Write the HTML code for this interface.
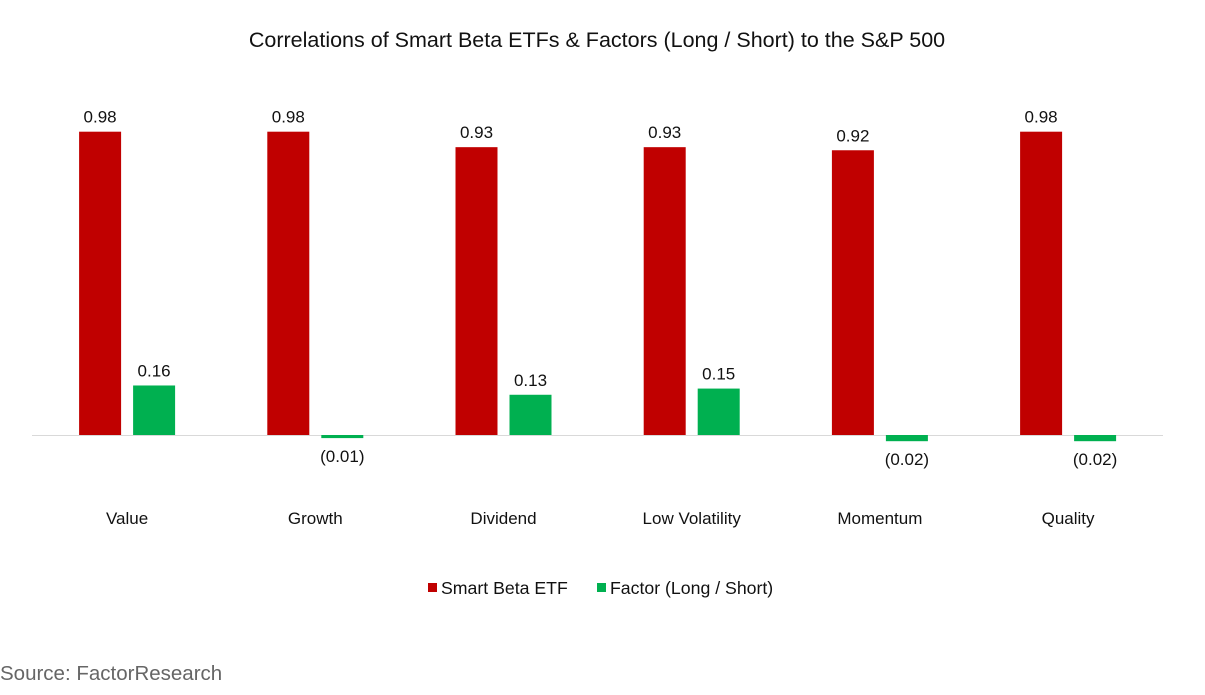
<!DOCTYPE html>
<html><head><meta charset="utf-8"><style>
html,body{margin:0;padding:0;background:#fff;}
svg{display:block;font-family:"Liberation Sans",Arial,sans-serif;}
</style></head><body>
<svg id="chart" width="1205" height="695" viewBox="0 0 1205 695">
<text x="597" y="47" text-anchor="middle" font-size="21.5" fill="#111">Correlations of Smart Beta ETFs &amp; Factors (Long / Short) to the S&amp;P 500</text>
<line x1="32" y1="435.5" x2="1163" y2="435.5" stroke="#d9d9d9" stroke-width="1"/>
<g id="bars"></g>
<g>
<rect x="428" y="583" width="9" height="9" fill="#c00000"/>
<text x="441" y="594" font-size="17.7" fill="#111">Smart Beta ETF</text>
<rect x="597" y="583" width="9" height="9" fill="#00b050"/>
<text x="610" y="594" font-size="17.7" fill="#111">Factor (Long / Short)</text>
</g>
<text x="0" y="680" font-size="20.5" fill="#666">Source: FactorResearch</text>
</svg>
<script>
const categories = ["Value","Growth","Dividend","Low Volatility","Momentum","Quality"];
const smartBeta = [0.98,0.98,0.93,0.93,0.92,0.98];
const factor = [0.16,-0.01,0.13,0.15,-0.02,-0.02];
const ns = "http://www.w3.org/2000/svg";
const g = document.getElementById("bars");
const baseY = 435, scale = 309.5, x0 = 33, step = 188.2, barW = 42;
function yScale(v){ return baseY - v*scale; }
function fmt(v){ return v<0 ? "("+Math.abs(v).toFixed(2)+")" : v.toFixed(2); }
function mk(tag, attrs){ const e=document.createElementNS(ns,tag); for(const k in attrs) e.setAttribute(k,attrs[k]); return e; }
categories.forEach((c,i)=>{
  const cx = x0 + step*(i+0.5);
  [[smartBeta[i],"#c00000",cx-48,"smart-beta"],[factor[i],"#00b050",cx+6,"factor"]].forEach(([v,col,x,s])=>{
    const y1 = Math.min(yScale(v), baseY), h = Math.abs(yScale(v)-baseY);
    const r = mk("rect",{x:x,y:y1,width:barW,height:Math.max(h,1),fill:col});
    
    
    g.appendChild(r);
    const ty = v>=0 ? yScale(v)-9 : yScale(v)+24;
    const t = mk("text",{x:x+barW/2,y:ty,"text-anchor":"middle","font-size":"17",fill:"#111"});
    t.textContent = fmt(v);
    
    
    g.appendChild(t);
  });
  const lt = mk("text",{x:cx,y:524,"text-anchor":"middle","font-size":"17",fill:"#111"});
  lt.textContent = c;
  
  
  g.appendChild(lt);
});
</script>
</body></html>
